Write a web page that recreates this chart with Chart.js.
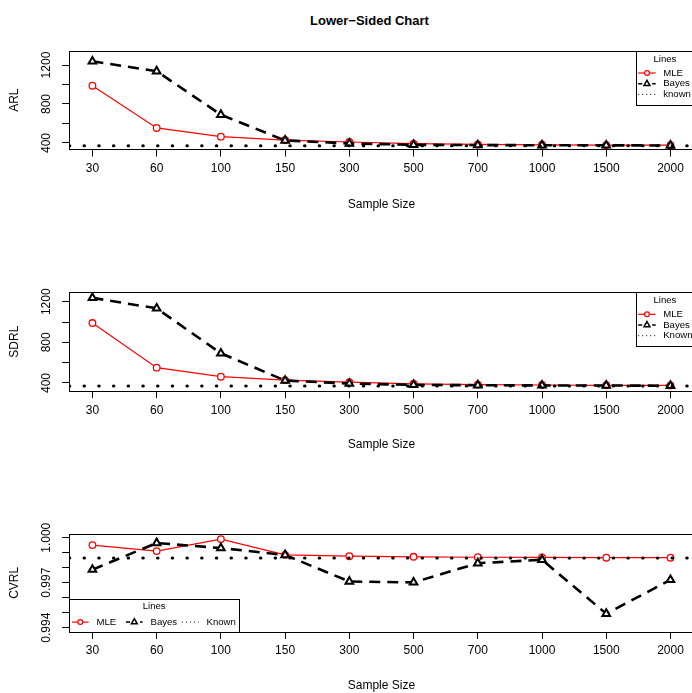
<!DOCTYPE html>
<html>
<head>
<meta charset="utf-8">
<script src="https://cdn.jsdelivr.net/npm/chart.js@4"></script>
<style>
  html, body { margin: 0; padding: 0; background: #fff; overflow: hidden; width: 692px; height: 693px; }
  .panel { position: absolute; left: 0; width: 700px; }
  #title { position: absolute; left: 0; width: 739px; top: 13px; text-align: center;
           font: bold 13px "Liberation Sans", Arial, sans-serif; line-height: 15px; white-space: nowrap; }
</style>
</head>
<body>
<div id="title">Lower−Sided Chart</div>
<div class="panel" style="top:0px;height:215px"><canvas id="arl"></canvas></div>
<div class="panel" style="top:235px;height:220px"><canvas id="sdrl"></canvas></div>
<div class="panel" style="top:475px;height:218px"><canvas id="cvrl"></canvas></div>
<script>
// data
const sampleSizes = ["30", "60", "100", "150", "300", "500", "700", "1000", "1500", "2000"];

const arlMLE   = [988, 554, 465, 430, 410, 393, 385, 381, 378, 377];
const arlBayes = [1238, 1136, 690, 426, 395, 381, 378, 377, 376, 374];
const arlKnown = 370.4;

const sdrlMLE   = [990, 551, 462, 428, 408, 392, 384, 380, 377, 376];
const sdrlBayes = [1238, 1135, 692, 424, 394, 381, 378, 376, 375, 373];
const sdrlKnown = 369.9;

const cvMLE   = [0.99951, 0.99911, 0.99991, 0.99886, 0.99877, 0.99873, 0.99870, 0.99869, 0.99867, 0.99867];
const cvBayes = [0.99787, 0.99965, 0.99931, 0.99885, 0.99708, 0.99702, 0.99830, 0.99853, 0.99493, 0.99719];
const cvKnown = 0.99865;

const rlTicks = [400, 600, 800, 1000, 1200];
const rlTickLabels = ["400", "", "800", "", "1200"];
const cvTicks = [0.994, 0.995, 0.996, 0.997, 0.998, 0.999, 1.000];
const cvTickLabels = ["0.994", "", "", "0.997", "", "", "1.000"];

const X_MIN = 0.64, X_MAX = 10.36;

Chart.defaults.font.family = '"Liberation Sans", Arial, sans-serif';
Chart.defaults.color = "#000";

function pts(arr) {
    return arr.map((v, i) => ({ x: i + 1, y: v }));
}

function drawMarker(ctx, style, x, y, r, color, lw) {
    ctx.beginPath();
    if (style === "circle") {
        ctx.arc(x, y, r, 0, Math.PI * 2);
    } else {
        ctx.moveTo(x, y - r);
        ctx.lineTo(x + r * 0.866, y + r / 2);
        ctx.lineTo(x - r * 0.866, y + r / 2);
        ctx.closePath();
    }
    ctx.setLineDash([]);
    ctx.fillStyle = "#fff";
    ctx.fill();
    ctx.strokeStyle = color;
    ctx.lineWidth = lw;
    ctx.stroke();
}

// legend look, like R's legend() call
const legendStyles = [
    { color: "#ff0000", lw: 1.2, dash: [], marker: "circle", r: 2.4 },
    { color: "#000", lw: 1.5, dash: [4, 3], marker: "triangle", r: 3.4 },
    { color: "#000", lw: 1, dash: [1, 3], marker: null, r: 0 }
];

function legendItem(ctx, st, x, y, len, label, textX) {
    ctx.save();
    ctx.strokeStyle = st.color;
    ctx.lineWidth = st.lw;
    ctx.setLineDash(st.dash);
    ctx.beginPath();
    ctx.moveTo(x, y);
    ctx.lineTo(x + len, y);
    ctx.stroke();
    if (st.marker) drawMarker(ctx, st.marker, x + len / 2, y, st.r, st.color, st.lw);
    ctx.fillStyle = "#000";
    ctx.textAlign = "left";
    ctx.textBaseline = "middle";
    ctx.fillText(label, textX, y);
    ctx.restore();
}

const boxPlugin = {
    id: "rBox",
    afterDraw(chart, args, opts) {
        const ctx = chart.ctx, a = chart.chartArea;
        ctx.save();
        // plot frame
        ctx.strokeStyle = "#000";
        ctx.lineWidth = 1;
        ctx.strokeRect(Math.round(a.left) + 0.5, Math.round(a.top) + 0.5,
                       Math.round(a.right - a.left), Math.round(a.bottom - a.top));

        // rotated y tick labels
        const s = chart.scales.y;
        ctx.font = '12px "Liberation Sans", Arial, sans-serif';
        ctx.fillStyle = "#000";
        ctx.textAlign = "center";
        ctx.textBaseline = "middle";
        s.ticks.forEach((t, i) => {
            const lab = opts.yLabels[i];
            if (!lab) return;
            ctx.save();
            ctx.translate(s.right - 22.6, s.getPixelForValue(t.value));
            ctx.rotate(-Math.PI / 2);
            ctx.fillText(lab, 0, 0);
            ctx.restore();
        });

        // legend
        const labels = chart.data.datasets.map(d => d.label);
        ctx.font = '9.6px "Liberation Sans", Arial, sans-serif';
        ctx.lineWidth = 1;
        if (opts.legend === "vertical") {
            const x0 = a.right - 57.4, y0 = a.top;
            ctx.fillStyle = "#fff";
            ctx.fillRect(x0, y0, a.right - x0, 54);
            ctx.strokeStyle = "#000";
            ctx.strokeRect(Math.round(x0) + 0.5, Math.round(y0) + 0.5, a.right - x0, 54);
            ctx.fillStyle = "#000";
            ctx.fillText("Lines", (x0 + a.right) / 2, y0 + 8);
            labels.forEach((lab, i) => {
                legendItem(ctx, legendStyles[i], x0 + 2, y0 + 22 + i * 10.7, 17.5, lab, x0 + 27);
            });
        } else {
            const x0 = a.left, x1 = a.left + 169.7, y1 = a.bottom, y0 = a.bottom - 32.7;
            ctx.fillStyle = "#fff";
            ctx.fillRect(x0, y0, x1 - x0, y1 - y0);
            ctx.strokeStyle = "#000";
            ctx.strokeRect(Math.round(x0) + 0.5, Math.round(y0) + 0.5, Math.round(x1 - x0), Math.round(y1 - y0));
            ctx.fillStyle = "#000";
            ctx.fillText("Lines", (x0 + x1) / 2, y0 + 7.7);
            const starts = [2.7, 56.7, 112.7];
            labels.forEach((lab, i) => {
                legendItem(ctx, legendStyles[i], x0 + starts[i], y1 - 9.6, 16.6, lab, x0 + starts[i] + 24.5);
            });
        }
        ctx.restore();
    }
};

function makePanel(id, p) {
    const top = p.canvasTop, h = p.canvasH;
    const xAxisH = h - (p.areaBottom - top);
    const xTitlePad = Math.max(0, top + h - 7.2 - p.xlabY);

    return new Chart(document.getElementById(id), {
        type: "line",
        data: {
            datasets: [
                {
                    label: "MLE",
                    data: pts(p.mle),
                    borderColor: "#ff0000",
                    borderWidth: 1.2,
                    pointStyle: "circle",
                    pointRadius: 3.3,
                    pointBorderWidth: 1.3,
                    pointBorderColor: "#ff0000",
                    pointBackgroundColor: "#fff",
                    order: 2
                },
                {
                    label: "Bayes",
                    data: pts(p.bayes),
                    borderColor: "#000",
                    borderWidth: 2.6,
                    borderDash: [11, 7],
                    pointStyle: "triangle",
                    pointRadius: 4.4,
                    pointBorderWidth: 2,
                    pointBorderColor: "#000",
                    pointBackgroundColor: "#fff",
                    order: 1
                },
                {
                    label: p.knownLabel,
                    data: [{ x: X_MIN, y: p.known }, { x: X_MAX, y: p.known }],
                    borderColor: "#000",
                    borderWidth: 3,
                    borderDash: [0.5, 14.2],
                    borderCapStyle: "round",
                    pointRadius: 0,
                    order: 0
                }
            ]
        },
        options: {
            responsive: true,
            maintainAspectRatio: false,
            animation: false,
            events: [],
            layout: { padding: { left: 0, right: 700 - 696.4, top: p.areaTop - top, bottom: 0 } },
            plugins: {
                legend: { display: false },
                tooltip: { enabled: false },
                rBox: { yLabels: p.yLabels, legend: p.legend }
            },
            scales: {
                x: {
                    type: "linear",
                    min: X_MIN,
                    max: X_MAX,
                    afterBuildTicks: axis => { axis.ticks = sampleSizes.map((s, i) => ({ value: i + 1 })); },
                    afterFit: axis => { axis.height = xAxisH; },
                    ticks: {
                        autoSkip: false,
                        maxRotation: 0,
                        padding: 4.8,
                        font: { size: 12 },
                        callback: v => sampleSizes[v - 1]
                    },
                    grid: { display: true, drawOnChartArea: false, drawTicks: true, tickLength: 7.2, color: "#000", lineWidth: 1 },
                    border: { display: false },
                    title: { display: true, text: "Sample Size", font: { size: 12 }, padding: { top: 0, bottom: xTitlePad } }
                },
                y: {
                    type: "linear",
                    min: p.yMin,
                    max: p.yMax,
                    afterBuildTicks: axis => { axis.ticks = p.yTicks.map(v => ({ value: v })); },
                    afterFit: axis => { axis.width = 69.3; },
                    ticks: { display: false },
                    grid: { display: true, drawOnChartArea: false, drawTicks: true, tickLength: 7.2, color: "#000", lineWidth: 1 },
                    border: { display: false },
                    title: { display: true, text: p.yTitle, font: { size: 12 }, padding: { top: 7.8, bottom: 0 } }
                }
            }
        },
        plugins: [boxPlugin]
    });
}

makePanel("arl", {
    canvasTop: 0, canvasH: 215, areaTop: 51, areaBottom: 149.3, xlabY: 205,
    mle: arlMLE, bayes: arlBayes, known: arlKnown, knownLabel: "known",
    yMin: 335, yMax: 1344, yTicks: rlTicks, yLabels: rlTickLabels, yTitle: "ARL", legend: "vertical"
});

makePanel("sdrl", {
    canvasTop: 235, canvasH: 220, areaTop: 292.3, areaBottom: 391, xlabY: 445,
    mle: sdrlMLE, bayes: sdrlBayes, known: sdrlKnown, knownLabel: "Known",
    yMin: 321, yMax: 1293, yTicks: rlTicks, yLabels: rlTickLabels, yTitle: "SDRL", legend: "vertical"
});

makePanel("cvrl", {
    canvasTop: 475, canvasH: 218, areaTop: 534, areaBottom: 631.7, xlabY: 686,
    mle: cvMLE, bayes: cvBayes, known: cvKnown, knownLabel: "Known",
    yMin: 0.99373, yMax: 1.00025, yTicks: cvTicks, yLabels: cvTickLabels, yTitle: "CVRL", legend: "horizontal"
});
</script>
</body>
</html>
